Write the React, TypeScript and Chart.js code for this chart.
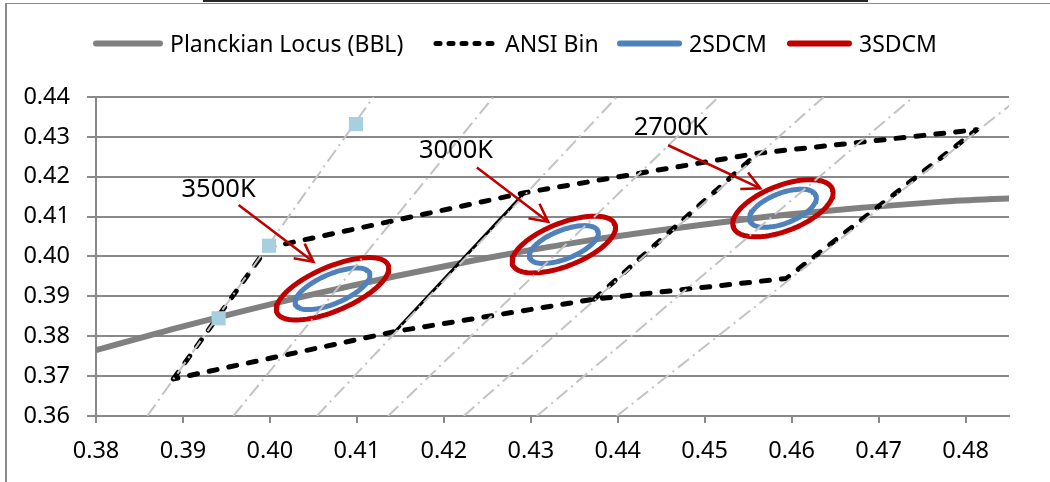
import React, { useEffect, useRef } from 'react';
import { Chart, registerables } from 'chart.js';

Chart.register(...registerables);

// ---- Data ----
// Planckian locus (BBL)
const locusX = [0.3800, 0.3897, 0.4053, 0.4234, 0.4369, 0.4520, 0.4599, 0.4770, 0.4862];
const locusY = [0.3765, 0.3823, 0.3907, 0.3990, 0.4041, 0.4086, 0.4106, 0.4137, 0.4147];

// ANSI bin outline (3500K, 3000K, 2700K quadrangles); null = pen up
const ansiX = [0.3889, 0.3997, 0.4293, 0.4561, 0.4813, 0.4594, 0.4373, 0.4144, 0.3889, 0.4373, 0.4373, 0.4561];
const ansiY = [0.3693, 0.4022, 0.4160, 0.4259, 0.4318, 0.3945, 0.3893, 0.3812, 0.3693, null, 0.3893, 0.4259];

// 3500K / 3000K shared edge (solid)
const edgeX = [0.4144, 0.4293];
const edgeY = [0.3812, 0.4160];

// Isotemperature (dash-dot) lines: x at y = 0.36 and at y = 0.44
const isoYLow = 0.36;
const isoYHigh = 0.44;
const isoLowX = [0.3859, 0.3958, 0.4054, 0.4136, 0.4223, 0.4307, 0.4399];
const isoHighX = [0.4119, 0.4257, 0.4399, 0.4516, 0.4637, 0.4740, 0.4863];

// Light blue square markers
const markerX = [0.3941, 0.3999, 0.4099];
const markerY = [0.3845, 0.4027, 0.4332];

// MacAdam ellipses: centres, 1-step semi-axes, rotation (deg)
const ellCX = [0.4072, 0.4338, 0.4590];
const ellCY = [0.3919, 0.4030, 0.4121];
const ellA = [0.00309, 0.00278, 0.00272];
const ellB = [0.00138, 0.00136, 0.00142];
const ellTheta = [53.2, 53.4, 56.0];

// CCT labels and arrows
const cctLabels = ['3500K', '3000K', '2700K'];
const cctLabelX = [0.3941, 0.4214, 0.4461];
const cctLabelY = [0.4150, 0.4248, 0.4304];
const arrowFromX = [0.3964, 0.4238, 0.4458];
const arrowFromY = [0.4129, 0.4223, 0.4279];
const arrowToX = [0.4050, 0.4320, 0.4564];
const arrowToY = [0.3987, 0.4087, 0.4171];

// Axis
const xMin = 0.38;
const xMax = 0.485;
const yMin = 0.36;
const yMax = 0.44;
const tickStep = 0.01;

// Legend
const legendLabels = ['Planckian Locus (BBL)', 'ANSI Bin', '2SDCM', '3SDCM'];

// ---- Styles / layout ----
const FONT = '"Noto Sans", "Open Sans", sans-serif';
const GRID = '#898989';
const C_LOCUS = '#808080';
const C_BLUE = '#4f81bd';
const C_RED = '#c00000';
const C_ISO = '#c3c3c3';
const C_MARK = '#a7cfe0';
const legendStyles = [
  { color: C_LOCUS, dash: [] as number[], width: 6, start: 93, len: 70 },
  { color: '#000000', dash: [4, 9], width: 5, start: 433, len: 65 },
  { color: C_BLUE, dash: [] as number[], width: 6, start: 617, len: 65 },
  { color: C_RED, dash: [] as number[], width: 6, start: 787, len: 65 },
];

function pts(xs: number[], ys: (number | null)[]) {
  return xs.map((x, i) => ({ x, y: ys[i] }));
}

function ellipsePoints(steps: number) {
  const out: { x: number; y: number | null }[] = [];
  for (let k = 0; k < ellCX.length; k++) {
    const a = ellA[k] * steps;
    const b = ellB[k] * steps;
    const th = (ellTheta[k] * Math.PI) / 180;
    for (let d = 0; d <= 364; d += 4) {
      const t = (d * Math.PI) / 180;
      out.push({
        x: ellCX[k] + a * Math.cos(t) * Math.cos(th) - b * Math.sin(t) * Math.sin(th),
        y: ellCY[k] + a * Math.cos(t) * Math.sin(th) + b * Math.sin(t) * Math.cos(th),
      });
    }
    out.push({ x: ellCX[k], y: null });
  }
  return out;
}

function isoPoints() {
  const out: { x: number; y: number | null }[] = [];
  for (let i = 0; i < isoLowX.length; i++) {
    out.push({ x: isoLowX[i], y: isoYLow });
    out.push({ x: isoHighX[i], y: isoYHigh });
    out.push({ x: isoHighX[i], y: null });
  }
  return out;
}

const annotationPlugin = {
  id: 'cctAnnotations',
  afterDatasetsDraw(chart: any) {
    const { ctx } = chart;
    const xs = chart.scales.x;
    const ys = chart.scales.y;
    ctx.save();
    ctx.strokeStyle = C_RED;
    ctx.lineWidth = 2.6;
    ctx.lineCap = 'butt';
    ctx.lineJoin = 'miter';
    for (let i = 0; i < arrowFromX.length; i++) {
      const fx = xs.getPixelForValue(arrowFromX[i]);
      const fy = ys.getPixelForValue(arrowFromY[i]);
      const tx = xs.getPixelForValue(arrowToX[i]);
      const ty = ys.getPixelForValue(arrowToY[i]);
      ctx.beginPath();
      ctx.moveTo(fx, fy);
      ctx.lineTo(tx, ty);
      ctx.stroke();
      const ang = Math.atan2(ty - fy, tx - fx);
      const hl = 20;
      const ha = (27 * Math.PI) / 180;
      ctx.beginPath();
      ctx.moveTo(tx - hl * Math.cos(ang - ha), ty - hl * Math.sin(ang - ha));
      ctx.lineTo(tx, ty);
      ctx.lineTo(tx - hl * Math.cos(ang + ha), ty - hl * Math.sin(ang + ha));
      ctx.stroke();
    }
    ctx.fillStyle = '#000';
    ctx.font = `25.5px ${FONT}`;
    ctx.textAlign = 'center';
    ctx.textBaseline = 'alphabetic';
    for (let i = 0; i < cctLabels.length; i++) {
      ctx.fillText(cctLabels[i], xs.getPixelForValue(cctLabelX[i]), ys.getPixelForValue(cctLabelY[i]));
    }
    ctx.restore();
  },
};

const legendPlugin = {
  id: 'lineLegend',
  afterDraw(chart: any) {
    const { ctx } = chart;
    ctx.save();
    ctx.font = `23px ${FONT}`;
    const gap = 7;
    const lineY = 43.5;
    const textY = 51.5;
    for (let i = 0; i < legendLabels.length; i++) {
      const st = legendStyles[i];
      ctx.strokeStyle = st.color;
      ctx.lineWidth = st.width;
      ctx.lineCap = 'round';
      ctx.setLineDash(st.dash);
      ctx.beginPath();
      ctx.moveTo(st.start + 3, lineY);
      ctx.lineTo(st.start + st.len - 3, lineY);
      ctx.stroke();
      ctx.setLineDash([]);
      ctx.fillStyle = '#000';
      ctx.textAlign = 'left';
      ctx.textBaseline = 'alphabetic';
      ctx.fillText(legendLabels[i], st.start + st.len + gap, textY);
    }
    ctx.restore();
  },
};

export default function App() {
  const ref = useRef<HTMLCanvasElement>(null);

  useEffect(() => {
    const canvas = ref.current;
    if (!canvas) return;
    const tickFont = { family: FONT, size: 23.5 };
    const chart = new Chart(canvas, {
      type: 'scatter',
      data: {
        datasets: [
          {
            label: 'markers',
            data: pts(markerX, markerY),
            showLine: false,
            pointStyle: 'rect',
            pointRadius: 10,
            pointBackgroundColor: C_MARK,
            pointBorderWidth: 0,
            backgroundColor: C_MARK,
            borderWidth: 0,
            order: 0,
          } as any,
          {
            label: 'isotherms',
            data: isoPoints(),
            showLine: true,
            borderColor: C_ISO,
            borderWidth: 2,
            borderDash: [14, 5, 2, 5],
            pointRadius: 0,
            tension: 0,
            spanGaps: false,
            order: 1,
          },
          {
            label: '2SDCM',
            data: ellipsePoints(2),
            showLine: true,
            borderColor: C_BLUE,
            borderWidth: 5,
            borderCapStyle: 'round',
            borderJoinStyle: 'round',
            pointRadius: 0,
            tension: 0,
            spanGaps: false,
            order: 2,
          },
          {
            label: '3SDCM',
            data: ellipsePoints(3),
            showLine: true,
            borderColor: C_RED,
            borderWidth: 5,
            borderCapStyle: 'round',
            borderJoinStyle: 'round',
            pointRadius: 0,
            tension: 0,
            spanGaps: false,
            order: 2,
          },
          {
            label: 'ANSI Bin',
            data: pts(ansiX, ansiY),
            showLine: true,
            borderColor: '#000',
            borderWidth: 5,
            borderDash: [8, 12],
            borderCapStyle: 'round',
            borderJoinStyle: 'round',
            pointRadius: 0,
            tension: 0,
            spanGaps: false,
            order: 3,
          },
          {
            label: 'edge',
            data: pts(edgeX, edgeY),
            showLine: true,
            borderColor: '#000',
            borderWidth: 3,
            pointRadius: 0,
            tension: 0,
            order: 3,
          },
          {
            label: 'Planckian Locus (BBL)',
            data: pts(locusX, locusY),
            showLine: true,
            borderColor: C_LOCUS,
            borderWidth: 6,
            pointRadius: 0,
            cubicInterpolationMode: 'monotone',
            order: 4,
          },
        ],
      },
      options: {
        animation: false,
        responsive: false,
        devicePixelRatio: 1,
        events: [],
        layout: { padding: { top: 97, right: 41, bottom: 0, left: 0 } },
        plugins: {
          legend: { display: false },
          tooltip: { enabled: false },
        },
        scales: {
          x: {
            type: 'linear',
            min: xMin,
            max: xMax,
            afterFit: (s: any) => {
              s.height = 66;
            },
            ticks: {
              stepSize: tickStep,
              includeBounds: false,
              autoSkip: false,
              maxRotation: 0,
              padding: 14,
              color: '#000',
              font: tickFont,
              callback: (v: any) => Number(v).toFixed(2),
            },
            grid: {
              drawOnChartArea: false,
              drawTicks: true,
              tickLength: 7,
              color: GRID,
              lineWidth: 2,
            },
            border: { display: true, color: GRID, width: 2 },
          },
          y: {
            type: 'linear',
            min: yMin,
            max: yMax,
            afterFit: (s: any) => {
              s.width = 96;
            },
            ticks: {
              stepSize: tickStep,
              autoSkip: false,
              padding: 17,
              color: '#000',
              font: tickFont,
              callback: (v: any) => Number(v).toFixed(2),
            },
            grid: {
              drawTicks: true,
              tickLength: 9,
              color: GRID,
              lineWidth: 2,
            },
            border: { display: true, color: GRID, width: 2 },
          },
        },
      } as any,
      plugins: [annotationPlugin, legendPlugin],
    });
    return () => chart.destroy();
  }, []);

  return (
    <div
      style={{
        position: 'absolute',
        left: 0,
        top: 0,
        width: 1050,
        height: 482,
        background: '#fff',
        overflow: 'hidden',
      }}
    >
      <canvas
        ref={ref}
        width={1050}
        height={482}
        style={{ position: 'absolute', left: 0, top: 0, width: 1050, height: 482 }}
      />
      <div
        style={{
          position: 'absolute',
          left: 5,
          top: 3,
          width: 1045,
          height: 479,
          borderTop: '1.5px solid #8a8a8a',
          borderLeft: '2px solid #8a8a8a',
          boxSizing: 'border-box',
        }}
      />
      <div
        style={{
          position: 'absolute',
          left: 203,
          top: 0,
          width: 665,
          height: 1.5,
          background: '#262626',
        }}
      />
    </div>
  );
}
